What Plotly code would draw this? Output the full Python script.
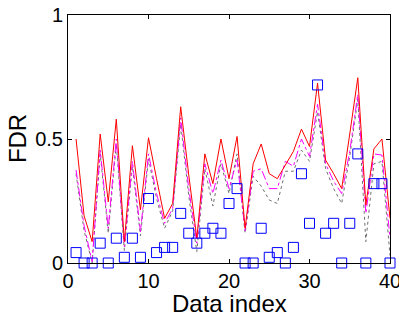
import plotly.graph_objects as go

idx = list(range(1, 41))
red_fdr = [0.50,0.19,0.086,0.52,0.247,0.58,0.086,0.473,0.214,0.505,0.34,0.18,0.24,0.63,0.355,0.10,0.44,0.32,0.50,0.34,0.51,0.14,0.40,0.48,0.36,0.34,0.395,0.45,0.54,0.47,0.725,0.415,0.36,0.30,0.52,0.747,0.234,0.46,0.50,0.18]
magenta_fdr = [0.375,0.15,0.005,0.455,0.14,0.50,0.066,0.41,0.126,0.44,0.28,0.16,0.22,0.585,0.30,0.08,0.40,0.28,0.415,0.30,0.415,0.13,0.37,0.38,0.30,0.30,0.41,0.39,0.50,0.43,0.64,0.40,0.33,0.28,0.45,0.68,0.20,0.44,0.435,0.10]
gray_fdr = [0.36,0.13,0.0,0.44,0.12,0.48,0.05,0.39,0.11,0.42,0.26,0.14,0.21,0.56,0.27,0.046,0.38,0.23,0.40,0.28,0.44,0.12,0.35,0.31,0.254,0.24,0.37,0.37,0.455,0.41,0.61,0.38,0.30,0.24,0.43,0.66,0.086,0.40,0.41,0.03]
blue_fdr = [0.042,0,0,0.08,0,0.10,0.023,0.10,0.023,0.26,0.042,0.063,0.063,0.20,0.12,0.08,0.12,0.14,0.12,0.24,0.30,0,0,0.14,0.023,0.042,0,0.063,0.36,0.16,0.718,0.12,0.16,0,0.16,0.44,0,0.32,0.32,0]

x_ticks = [0, 10, 20, 30, 40]
y_ticks = [0, 0.5, 1]
y_ticklabels = ["0", "0.5", "1"]
x_title = "Data index"
y_title = "FDR"

fig = go.Figure()
fig.add_trace(go.Scatter(x=idx, y=gray_fdr, mode="lines",
                         line=dict(color="#707070", width=1, dash="dot")))
fig.add_trace(go.Scatter(x=idx, y=magenta_fdr, mode="lines",
                         line=dict(color="#ff00ff", width=1, dash="dashdot")))
fig.add_trace(go.Scatter(x=idx, y=red_fdr, mode="lines",
                         line=dict(color="#ff0000", width=1)))
fig.add_trace(go.Scatter(x=idx, y=blue_fdr, mode="markers", cliponaxis=False,
                         marker=dict(symbol="square-open", size=10,
                                     color="#0000ff", line=dict(width=1))))

tick_font = dict(family="Liberation Sans, Arial, sans-serif", size=20, color="black")
title_font = dict(family="Liberation Sans, Arial, sans-serif", size=24, color="black")
fig.update_layout(
    width=399, height=308,
    margin=dict(l=60, r=17, t=7, b=53, autoexpand=False),
    plot_bgcolor="white", paper_bgcolor="white",
    showlegend=False, font=tick_font,
    annotations=[
        dict(text=x_title, xref="paper", yref="paper", x=0.5, y=-0.165,
             xanchor="center", yanchor="middle", showarrow=False, font=title_font),
        dict(text=y_title, xref="paper", yref="paper", x=-0.158, y=0.5,
             xanchor="center", yanchor="middle", showarrow=False,
             textangle=-90, font=title_font),
    ],
)
fig.update_xaxes(range=[0, 40], tickvals=x_ticks, ticks="inside", ticklen=4,
                 showline=True, linecolor="black", linewidth=1, mirror="ticks",
                 showgrid=False, zeroline=False, tickcolor="black",
                 tickfont=tick_font, automargin=False, ticklabeloverflow="allow")
fig.update_yaxes(range=[0, 1], tickvals=y_ticks, ticktext=y_ticklabels,
                 ticks="inside", ticklen=4,
                 showline=True, linecolor="black", linewidth=1, mirror="ticks",
                 showgrid=False, zeroline=False, tickcolor="black",
                 tickfont=tick_font, automargin=False, ticklabeloverflow="allow")

fig.write_html("out.html")
